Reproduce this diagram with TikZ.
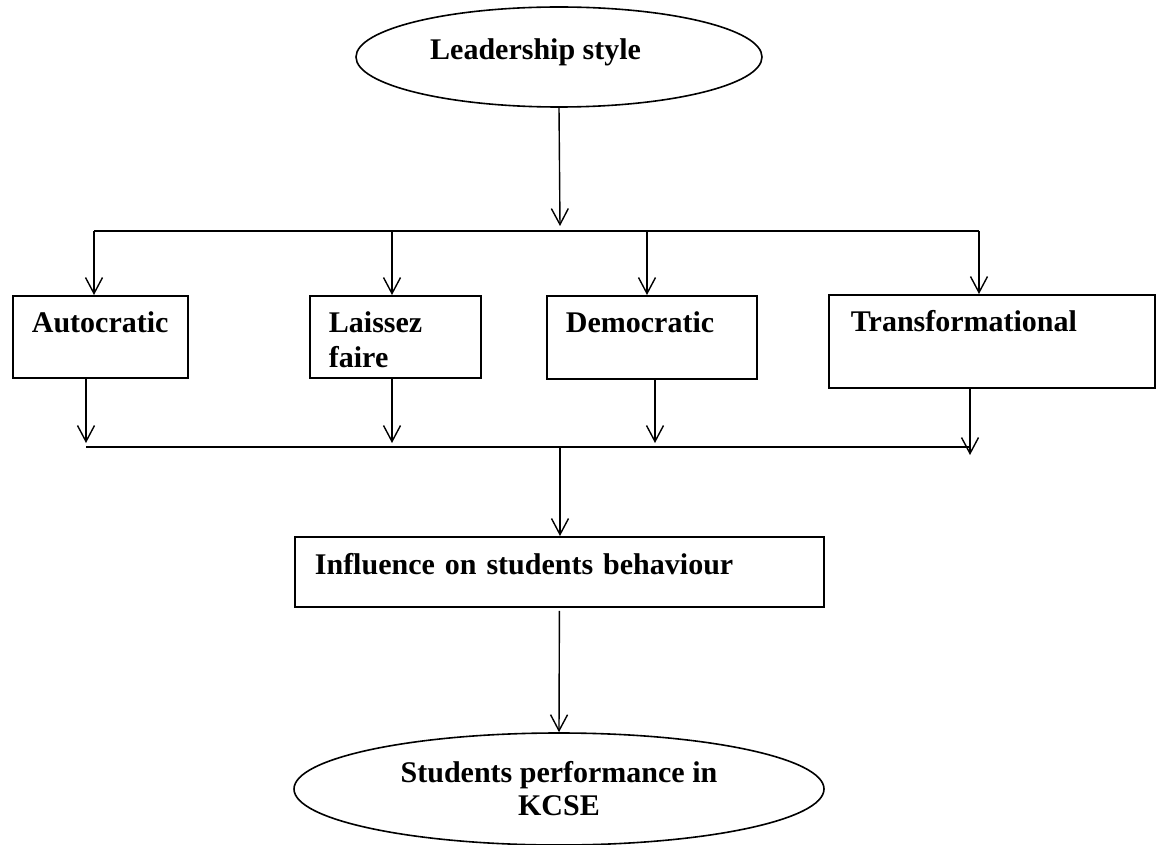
\documentclass[tikz,border=0pt]{standalone}
\usepackage{fontspec}
\setmainfont{Liberation Serif}
\usepackage{tikz}
\usetikzlibrary{arrows.meta,shapes.geometric}

\begin{document}
\begin{tikzpicture}[x=1pt,y=-1pt,
      txt/.style={font=\fontsize{30}{35}\selectfont\bfseries},
      oval/.style={ellipse,draw,line width=1.6pt,inner sep=0pt,txt},
      sbox/.style={draw,line width=1.8pt,anchor=north west,align=left,inner ysep=0pt,inner xsep=19pt,
                   text height=37pt,text depth=45pt,txt},
      ln/.style={line width=1.4pt},
      arr/.style={ln,-{Straight Barb[length=16pt,width=17pt]}}]
    \useasboundingbox (0,0) rectangle (1162,845);
    % top and bottom ovals
    \node[oval,minimum width=406pt,minimum height=100pt] (ls) at (559,57) {};
    \node[txt,anchor=base west,inner sep=0pt] (lsT) at (430,60) {Leadership style};
    \node[oval,minimum width=530pt,minimum height=112pt,align=center] (kc) at (559,789) {Students performance in\\[-2pt]KCSE};
    % the four styles
    \node[sbox,text width=137pt] (au) at (12,295) {Autocratic};
    \node[sbox,text width=133pt] (lf) at (309,295) {Laissez\\faire};
    \node[sbox,text width=172pt,text depth=46pt] (dm) at (546,295) {Democratic};
    \node[sbox,inner xsep=22pt,text width=282pt,text depth=56pt] (tf) at (828,294) {Transformational};
    \node[sbox,inner xsep=20pt,text width=489pt,text height=38pt,text depth=32pt] (inf) at (294,536) {Influence on students behaviour};
    % branching
    \coordinate (uc) at (560,231);
    \draw[arr] (ls.south) -- ([yshift=5pt]uc);
    \foreach \n/\tx in {au/94,lf/392,dm/647,tf/979} {
      \coordinate (u\n) at (\tx,231);
      \draw[arr] (u\n) -- (u\n |- \n.north);
    }
    \draw[ln] (uau) -- (utf);
    % joining
    \foreach \n/\bx/\by in {au/86/443,lf/392/443,dm/655/443,tf/970/455} {
      \coordinate (d\n) at (\bx,\by);
      \draw[arr] (d\n |- \n.south) -- (d\n);
    }
    \coordinate (bl) at (86,447);
    \coordinate (br) at (970,447);
    \coordinate (bc) at (560,447);
    \draw[ln] (bl) -- (br);
    \draw[arr] (bc) -- (bc |- inf.north);
    \draw[arr] ([yshift=-3pt]inf.south) -- (kc.north);
  \end{tikzpicture}
\end{document}
